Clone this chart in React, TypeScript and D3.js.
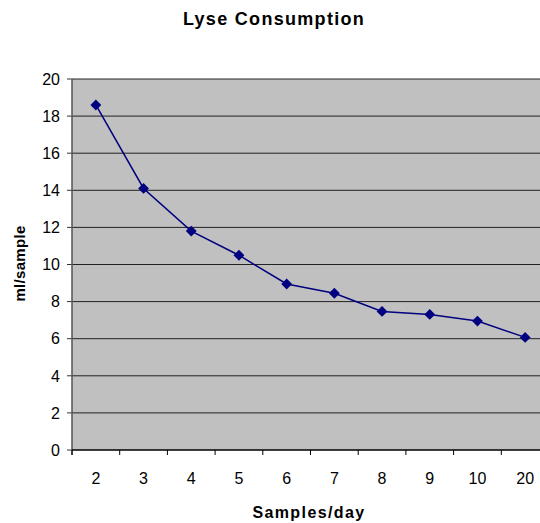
import React from "react";
import * as d3 from "d3";

const categories = ["2", "3", "4", "5", "6", "7", "8", "9", "10", "20"];
const values = [18.6, 14.1, 11.8, 10.5, 8.95, 8.45, 7.47, 7.31, 6.95, 6.07];
const yTicks = [0, 2, 4, 6, 8, 10, 12, 14, 16, 18, 20];

const W = 540;
const H = 523;
const left = 72;
const right = 549;
const top = 79;
const bottom = 450;

export default function App() {
  const x = d3.scaleBand<string>().domain(categories).range([left, right]);
  const y = d3.scaleLinear().domain([0, 20]).range([bottom, top]);
  const line = d3
    .line<number>()
    .x((_, i) => (x(categories[i]) as number) + x.bandwidth() / 2)
    .y((d) => y(d));
  const font = "'Liberation Sans', Arial, sans-serif";
  const diamond = d3.symbol().type(d3.symbolDiamond2).size(75)() as string;
  const boundaries = categories.map((c) => x(c) as number).concat([right]);

  return (
    <svg
      width={W}
      height={H}
      style={{ position: "absolute", left: 0, top: 0, background: "#fff" }}
      fontFamily={font}
    >
      <rect x={left} y={top} width={right - left} height={bottom - top} fill="#C0C0C0" />
      {yTicks.map((t) => (
        <g key={t}>
          {t > 0 && (
            <line x1={left} x2={right} y1={y(t)} y2={y(t)} stroke="#222" strokeWidth={1} />
          )}
          <line x1={left - 5} x2={left} y1={y(t)} y2={y(t)} stroke="#333" strokeWidth={1} />
          <text x={left - 12} y={y(t)} dy="0.36em" textAnchor="end" fontSize={16} fill="#000">
            {t}
          </text>
        </g>
      ))}
      <line x1={left} x2={left} y1={top} y2={bottom + 5} stroke="#555" strokeWidth={1.5} />
      <line x1={left} x2={right} y1={bottom} y2={bottom} stroke="#000" strokeWidth={1.5} />
      {boundaries.map((b, i) => (
        <line key={i} x1={b} x2={b} y1={bottom} y2={bottom + 5} stroke="#000" strokeWidth={1} />
      ))}
      {categories.map((c) => (
        <text
          key={c}
          x={(x(c) as number) + x.bandwidth() / 2}
          y={484}
          textAnchor="middle"
          fontSize={16}
          fill="#000"
        >
          {c}
        </text>
      ))}
      <path d={line(values) as string} fill="none" stroke="#000080" strokeWidth={1.5} />
      {values.map((v, i) => (
        <path
          key={i}
          d={diamond}
          transform={`translate(${(x(categories[i]) as number) + x.bandwidth() / 2},${y(v)})`}
          fill="#000080"
        />
      ))}
      <text x={274} y={25} textAnchor="middle" fontSize={18} fontWeight="bold" letterSpacing={1.3}>
        Lyse Consumption
      </text>
      <text x={309} y={518} textAnchor="middle" fontSize={16} fontWeight="bold" letterSpacing={1.4}>
        Samples/day
      </text>
      <text
        transform={`translate(25,${263.5}) rotate(-90)`}
        textAnchor="middle"
        fontSize={15}
        fontWeight="bold"
        letterSpacing={0.3}
      >
        ml/sample
      </text>
    </svg>
  );
}
